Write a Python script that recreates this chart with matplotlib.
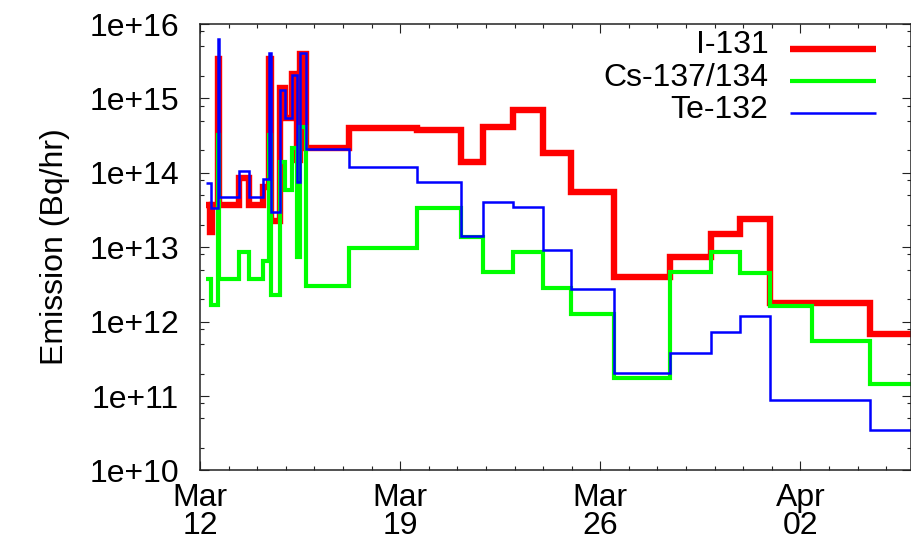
import numpy as np
import matplotlib
matplotlib.use("Agg")
import matplotlib.pyplot as plt
import matplotlib.dates as mdates
from matplotlib.ticker import LogLocator, NullFormatter, FuncFormatter

plt.rcParams["font.family"] = ["Liberation Sans", "DejaVu Sans"]
plt.rcParams["font.size"] = 23

START = np.datetime64("2011-03-12T00:00")

# Release rates (Bq/hr) as step functions; edges are hours after 2011-03-12 00:00
i131_hours = [5.0, 8.8, 10.1, 14.7, 16.0, 32.8, 41.2, 52.9, 57.5, 59.6, 67.2, 71.4,
              77.3, 81.1, 84.0, 88.6, 125.2, 182.3, 219.2, 237.5, 262.7, 287.5,
              311.6, 347.2, 394.2, 429.2, 453.6, 478.2, 562.2, 600.0]
i131_rate = [3.7e13, 1.6e13, 3.7e13, 3.4e15, 3.7e13, 8.4e13, 3.7e13, 6.4e13, 3.4e15,
             2.25e13, 1.4e15, 5.5e14, 2.1e15, 1.5e14, 4.0e15, 2.15e14, 4.0e14, 3.75e14,
             1.4e14, 4.1e14, 7.0e14, 1.86e14, 5.5e13, 4.0e12, 7.4e12, 1.49e13, 2.37e13,
             1.76e12, 6.8e11]

cs_hours = [5.0, 9.2, 14.7, 16.0, 32.8, 41.2, 52.9, 57.5, 59.6, 67.2, 71.4, 77.3,
            81.1, 84.0, 88.6, 125.2, 182.3, 219.2, 237.5, 262.7, 287.5, 311.6,
            347.2, 394.2, 429.2, 453.6, 478.2, 513.8, 562.2, 600.0]
cs_rate = [3.7e12, 1.67e12, 3.2e14, 3.7e12, 8.6e12, 3.7e12, 6.5e12, 3.2e14, 2.28e12,
           1.4e14, 5.9e13, 2.15e14, 7.4e12, 4.1e14, 3.0e12, 9.75e12, 3.4e13, 1.37e13,
           4.6e12, 8.6e12, 2.83e12, 1.25e12, 1.73e11, 4.7e12, 8.6e12, 4.45e12, 1.62e12,
           5.5e11, 1.45e11]

te_hours = [5.0, 9.2, 14.7, 16.0, 32.8, 41.2, 52.9, 57.5, 59.6, 67.2, 71.4, 77.3,
            81.1, 84.0, 88.6, 125.2, 182.3, 219.2, 237.5, 262.7, 287.5, 311.6,
            347.2, 394.2, 429.2, 453.6, 478.2, 562.2, 600.0]
te_rate = [7.3e13, 3.4e13, 6.3e15, 4.7e13, 1.06e14, 4.7e13, 8.3e13, 4.1e15, 3.0e13,
           1.3e15, 5.5e14, 2.06e15, 7.5e13, 4.1e15, 2.1e14, 1.2e14, 7.5e13, 1.41e13,
           4.05e13, 3.5e13, 9.2e12, 2.74e12, 2.04e11, 3.8e11, 7.2e11, 1.19e12, 8.8e10,
           3.5e10]

labels = ["I-131", "Cs-137/134", "Te-132"]
colors = ["#ff0000", "#00ff00", "#0000ff"]
widths = [4.6, 3.0, 1.8]

tick_dates = ["2011-03-12", "2011-03-19", "2011-03-26", "2011-04-02"]
tick_labels = ["Mar\n12", "Mar\n19", "Mar\n26", "Apr\n02"]
x_end_hours = 596.4


def to_num(hours):
    h = np.asarray(hours, dtype=float)
    return mdates.date2num(START + (h * 3600).astype("timedelta64[s]"))


fig = plt.figure(figsize=(9.12, 5.48), dpi=100)
ax = fig.add_axes([200 / 912, 1 - 470.4 / 548, 710.5 / 912, 446.4 / 548])

series = [(i131_hours, i131_rate), (cs_hours, cs_rate), (te_hours, te_rate)]
for (hrs, vals), lab, col, lw in zip(series, labels, colors, widths):
    ax.stairs(vals, to_num(hrs), baseline=None, fill=False, edgecolor=col,
              linewidth=lw, joinstyle="miter", capstyle="butt")

ax.xaxis_date()
ax.set_yscale("log")
ax.set_ylim(1e10, 1e16)
ax.set_xlim(to_num([0.0])[0], to_num([x_end_hours])[0])

ax.yaxis.set_major_locator(LogLocator(base=10, numticks=20))
ax.yaxis.set_minor_locator(LogLocator(base=10, subs=(2, 5, 8), numticks=20))
ax.yaxis.set_minor_formatter(NullFormatter())
ax.yaxis.set_major_formatter(FuncFormatter(lambda v, p: "1e+%d" % round(np.log10(v))))

tick_nums = mdates.date2num(np.array(tick_dates, dtype="datetime64[D]"))
ax.set_xticks(tick_nums, tick_labels)
ax.xaxis.set_minor_locator(mdates.DayLocator())
for t in ax.get_xticklabels():
    t.set_linespacing(0.9)

ax.tick_params(which="both", direction="in", top=True, right=True, width=0.8,
               color="#222222")
ax.tick_params(which="major", length=6.5)
ax.tick_params(which="minor", length=3.2)
ax.tick_params(axis="y", pad=15)
ax.tick_params(axis="x", pad=9)
for sp in ax.spines.values():
    sp.set_linewidth(1.1)
    sp.set_color("#222222")

fig.text(55 / 912, 1 - 247 / 548, "Emission (Bq/hr)", rotation=90,
         ha="center", va="center")

# key in the upper right corner: label text followed by a line sample
key_y = [0.944, 0.872, 0.800]
for lab, col, lw, y in zip(labels, colors, widths, key_y):
    ax.text(0.80, y + 0.008, lab, transform=ax.transAxes, ha="right", va="center")
    ax.plot([0.831, 0.952], [y, y], transform=ax.transAxes, color=col,
            linewidth=lw, solid_capstyle="butt")

fig.savefig("out.png", dpi=100)
